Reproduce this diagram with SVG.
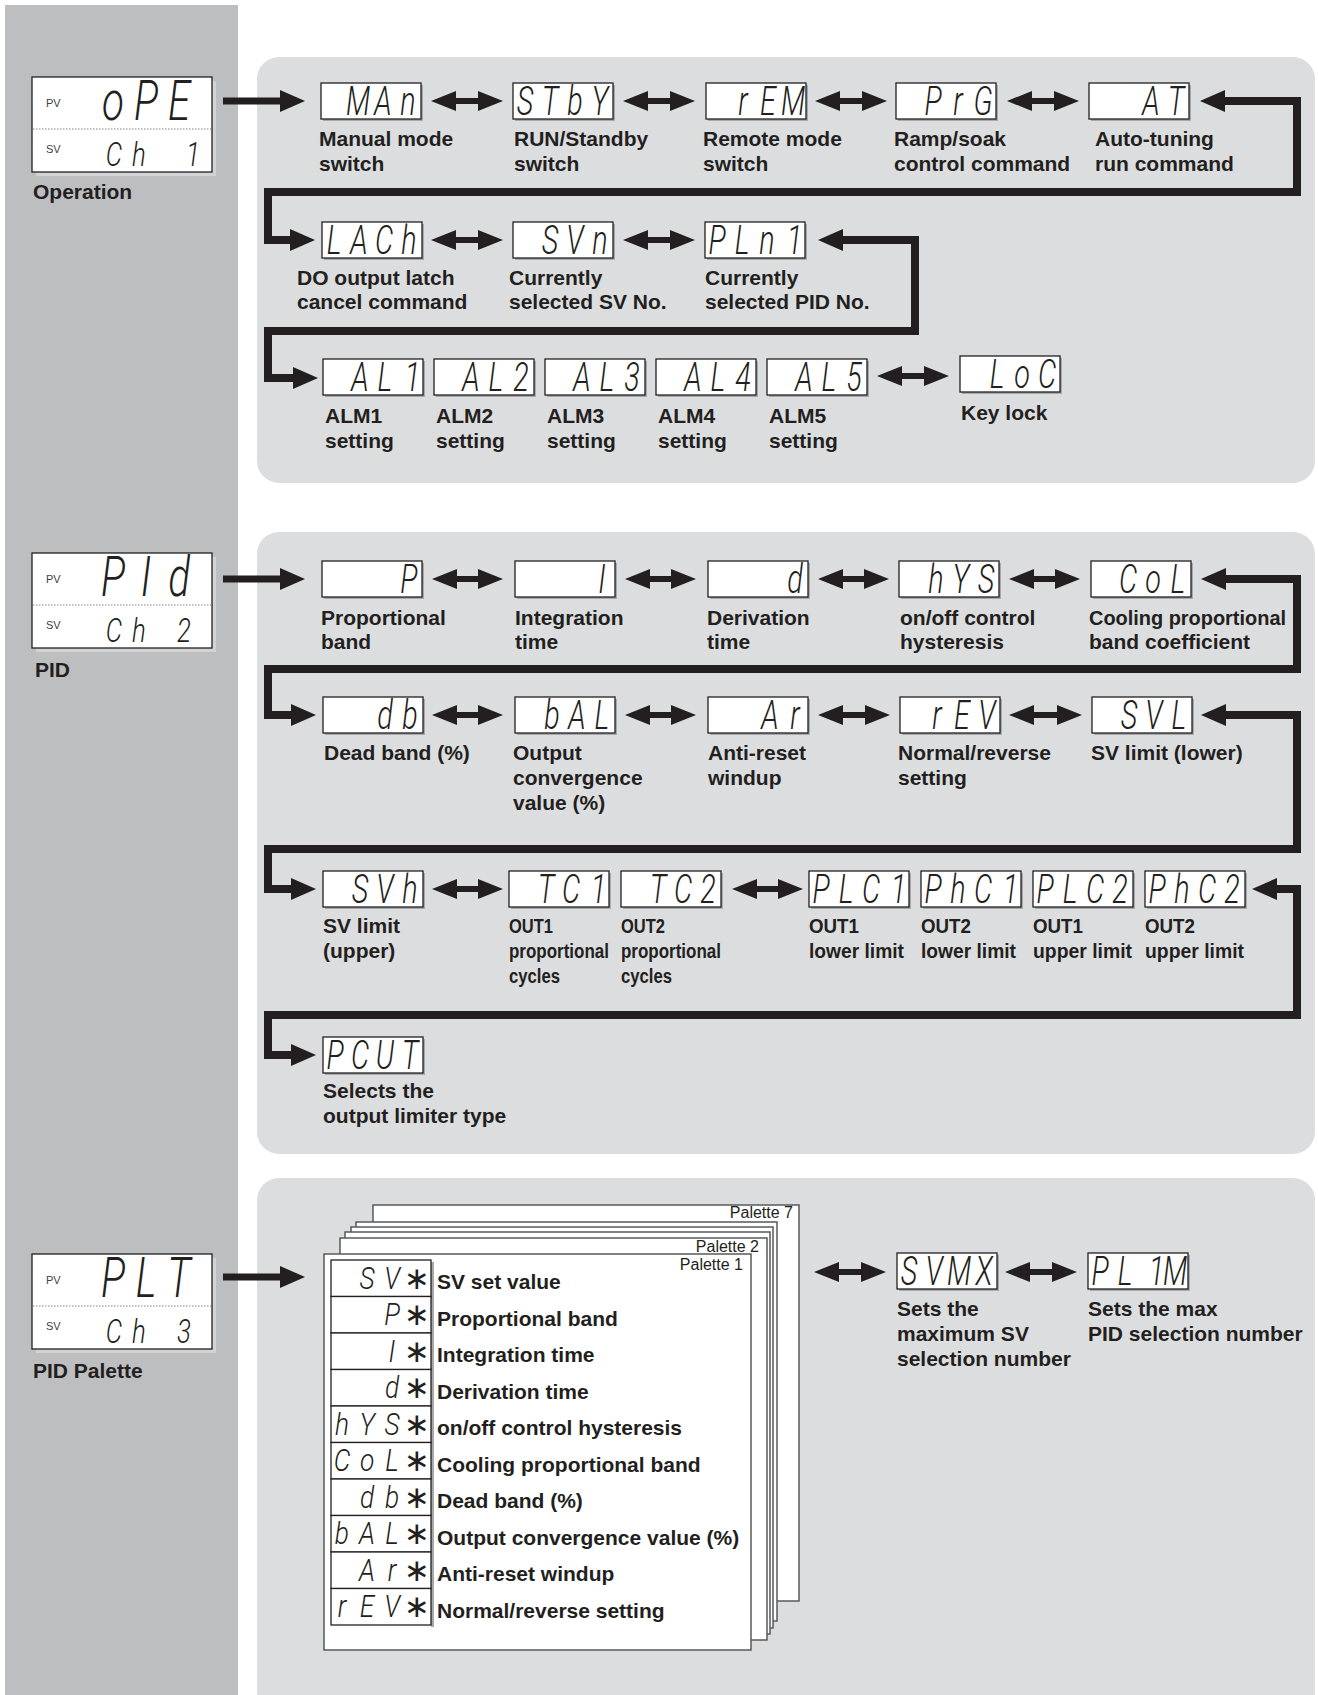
<svg xmlns="http://www.w3.org/2000/svg" width="1318" height="1695" viewBox="0 0 1318 1695">
<style>
.lbl{font-family:"Liberation Sans",Arial,Helvetica,sans-serif;font-weight:bold;font-size:21px;fill:#231f20}
.sec{font-family:"Liberation Sans",Arial,Helvetica,sans-serif;font-weight:bold;font-size:21px;fill:#231f20}
.pal{font-family:"Liberation Sans",Arial,Helvetica,sans-serif;font-size:16px;fill:#231f20;text-anchor:end}
.pvsv{font-family:"Liberation Sans",Arial,Helvetica,sans-serif;font-size:11px;fill:#414042}
.seg{font-family:Roboto,"DejaVu Sans",sans-serif;font-weight:300;font-style:italic;font-size:40px;fill:#231f20;text-anchor:middle}
.big{font-size:56px}
.sv{font-size:34px}
.lst{font-size:31px}
.ast{font-family:"DejaVu Sans",sans-serif;font-size:31px;fill:#231f20;text-anchor:middle}
.box{fill:#fff;stroke:#231f20;stroke-width:1.3}
.sh{fill:#a7a9ac}
.bsh{fill:#d1d3d4}
.dot{stroke:#808285;stroke-width:1;stroke-dasharray:1.5 1.5}
.page{fill:#fff;stroke:#58595b;stroke-width:1.5}
.conn{fill:none;stroke:#231f20;stroke-width:8;marker-start:url(#ah);marker-end:url(#ah)}
.one{fill:none;stroke:#231f20;stroke-width:7;marker-end:url(#ah)}
.dbl{stroke:#231f20;stroke-width:6;marker-start:url(#dh);marker-end:url(#dh)}
</style>
<defs>
<marker id="ah" markerUnits="userSpaceOnUse" markerWidth="26" markerHeight="22" refX="4" refY="11" orient="auto-start-reverse"><path d="M0,0 L25,11 L0,22 Z" fill="#231f20"/></marker>
<marker id="dh" markerUnits="userSpaceOnUse" markerWidth="26" markerHeight="20" refX="4" refY="10" orient="auto-start-reverse"><path d="M0,0 L25,10 L0,20 Z" fill="#231f20"/></marker>
</defs>

<g id="background">
<rect width="1318" height="1695" fill="#fff"/>
<rect x="5" y="5" width="233" height="1690" fill="#bcbec0"/>
<rect x="257" y="57" width="1058" height="426" rx="22" fill="#dcdddf"/>
<rect x="257" y="532" width="1058" height="622" rx="22" fill="#dcdddf"/>
<rect x="257" y="1178" width="1058" height="540" rx="22" fill="#dcdddf"/>
</g>

<!-- Main displays -->
<g id="d-operation">
<rect class="bsh" x="36" y="81" width="180" height="95"/>
<rect class="box" x="32" y="77" width="180" height="95"/>
<line class="dot" x1="33" y1="129" x2="211" y2="129"/>
<text class="pvsv" x="46" y="107">PV</text>
<text class="pvsv" x="46" y="153">SV</text>
<text class="seg big" transform="translate(32,77) scale(0.72,1)" x="112.5 158.3 204.2" y="43.3">oPE</text>
<text class="seg sv" transform="translate(32,77) scale(0.76,1)" x="107.9 140.8 171 211.8" y="89.3">Ch 1</text>
<text class="sec" x="33" y="199">Operation</text>
</g>
<g id="d-pid">
<rect class="bsh" x="36" y="557" width="180" height="95"/>
<rect class="box" x="32" y="553" width="180" height="95"/>
<line class="dot" x1="33" y1="605" x2="211" y2="605"/>
<text class="pvsv" x="46" y="583">PV</text>
<text class="pvsv" x="46" y="629">SV</text>
<text class="seg big" transform="translate(32,553) scale(0.72,1)" x="112.5 158.3 204.2" y="43.3">PId</text>
<text class="seg sv" transform="translate(32,553) scale(0.76,1)" x="107.9 140.8 171 200" y="89.3">Ch 2</text>
<text class="sec" x="35" y="677">PID</text>
</g>
<g id="d-palette">
<rect class="bsh" x="36" y="1258" width="180" height="95"/>
<rect class="box" x="32" y="1254" width="180" height="95"/>
<line class="dot" x1="33" y1="1306" x2="211" y2="1306"/>
<text class="pvsv" x="46" y="1284">PV</text>
<text class="pvsv" x="46" y="1330">SV</text>
<text class="seg big" transform="translate(32,1254) scale(0.72,1)" x="112.5 158.3 204.2" y="43.3">PLT</text>
<text class="seg sv" transform="translate(32,1254) scale(0.76,1)" x="107.9 140.8 171 200" y="89.3">Ch 3</text>
<text class="sec" x="33" y="1378">PID Palette</text>
</g>

<!-- Operation row 1 -->
<g id="n-man" transform="translate(321,83)"><rect class="sh" x="2" y="2" width="100" height="36"/><rect class="box" width="100" height="36"/><text class="seg" transform="scale(0.72,1)" x="51.4 86.1 120.8" y="32">MAn</text><text class="lbl" x="-2" y="63">Manual mode</text><text class="lbl" x="-2" y="88">switch</text></g>
<g id="n-stby" transform="translate(513,83)"><rect class="sh" x="2" y="2" width="100" height="36"/><rect class="box" width="100" height="36"/><text class="seg" transform="scale(0.72,1)" x="16.7 51.4 86.1 120.8" y="32">STbY</text><text class="lbl" x="1" y="63">RUN/Standby</text><text class="lbl" x="1" y="88">switch</text></g>
<g id="n-rem" transform="translate(706,83)"><rect class="sh" x="2" y="2" width="100" height="36"/><rect class="box" width="100" height="36"/><text class="seg" transform="scale(0.72,1)" x="51.4 86.1 120.8" y="32">rEM</text><text class="lbl" x="-3" y="63">Remote mode</text><text class="lbl" x="-3" y="88">switch</text></g>
<g id="n-prg" transform="translate(896,83)"><rect class="sh" x="2" y="2" width="100" height="36"/><rect class="box" width="100" height="36"/><text class="seg" transform="scale(0.72,1)" x="51.4 86.1 120.8" y="32">PrG</text><text class="lbl" x="-2" y="63">Ramp/soak</text><text class="lbl" x="-2" y="88">control command</text></g>
<g id="n-at" transform="translate(1089,83)"><rect class="sh" x="2" y="2" width="100" height="36"/><rect class="box" width="100" height="36"/><text class="seg" transform="scale(0.72,1)" x="86.1 120.8" y="32">AT</text><text class="lbl" x="6" y="63">Auto-tuning</text><text class="lbl" x="6" y="88">run command</text></g>

<!-- Operation row 2 -->
<g id="n-lach" transform="translate(322,222)"><rect class="sh" x="2" y="2" width="100" height="36"/><rect class="box" width="100" height="36"/><text class="seg" transform="scale(0.72,1)" x="16.7 51.4 86.1 120.8" y="32">LACh</text><text class="lbl" x="-25" y="63">DO output latch</text><text class="lbl" x="-25" y="87">cancel command</text></g>
<g id="n-svn" transform="translate(513,222)"><rect class="sh" x="2" y="2" width="100" height="36"/><rect class="box" width="100" height="36"/><text class="seg" transform="scale(0.72,1)" x="51.4 86.1 120.8" y="32">SVn</text><text class="lbl" x="-4" y="63">Currently</text><text class="lbl" x="-4" y="87">selected SV No.</text></g>
<g id="n-pln1" transform="translate(705,222)"><rect class="sh" x="2" y="2" width="100" height="36"/><rect class="box" width="100" height="36"/><text class="seg" transform="scale(0.72,1)" x="16.7 51.4 86.1 124.4" y="32">PLn1</text><text class="lbl" x="0" y="63">Currently</text><text class="lbl" x="0" y="87">selected PID No.</text></g>

<!-- Operation row 3 -->
<g id="n-al1" transform="translate(323,359)"><rect class="sh" x="2" y="2" width="100" height="36"/><rect class="box" width="100" height="36"/><text class="seg" transform="scale(0.72,1)" x="51.4 86.1 124.4" y="32">AL1</text><text class="lbl" x="2" y="64">ALM1</text><text class="lbl" x="2" y="89">setting</text></g>
<g id="n-al2" transform="translate(434,359)"><rect class="sh" x="2" y="2" width="100" height="36"/><rect class="box" width="100" height="36"/><text class="seg" transform="scale(0.72,1)" x="51.4 86.1 120.8" y="32">AL2</text><text class="lbl" x="2" y="64">ALM2</text><text class="lbl" x="2" y="89">setting</text></g>
<g id="n-al3" transform="translate(545,359)"><rect class="sh" x="2" y="2" width="100" height="36"/><rect class="box" width="100" height="36"/><text class="seg" transform="scale(0.72,1)" x="51.4 86.1 120.8" y="32">AL3</text><text class="lbl" x="2" y="64">ALM3</text><text class="lbl" x="2" y="89">setting</text></g>
<g id="n-al4" transform="translate(656,359)"><rect class="sh" x="2" y="2" width="100" height="36"/><rect class="box" width="100" height="36"/><text class="seg" transform="scale(0.72,1)" x="51.4 86.1 120.8" y="32">AL4</text><text class="lbl" x="2" y="64">ALM4</text><text class="lbl" x="2" y="89">setting</text></g>
<g id="n-al5" transform="translate(767,359)"><rect class="sh" x="2" y="2" width="100" height="36"/><rect class="box" width="100" height="36"/><text class="seg" transform="scale(0.72,1)" x="51.4 86.1 120.8" y="32">AL5</text><text class="lbl" x="2" y="64">ALM5</text><text class="lbl" x="2" y="89">setting</text></g>
<g id="n-loc" transform="translate(960,356)"><rect class="sh" x="2" y="2" width="100" height="36"/><rect class="box" width="100" height="36"/><text class="seg" transform="scale(0.72,1)" x="51.4 86.1 120.8" y="32">LoC</text><text class="lbl" x="1" y="64">Key lock</text></g>

<!-- PID row 1 -->
<g id="n-p" transform="translate(322,561)"><rect class="sh" x="2" y="2" width="100" height="36"/><rect class="box" width="100" height="36"/><text class="seg" transform="scale(0.72,1)" x="120.8" y="32">P</text><text class="lbl" x="-1" y="64">Proportional</text><text class="lbl" x="-1" y="88">band</text></g>
<g id="n-i" transform="translate(515,561)"><rect class="sh" x="2" y="2" width="100" height="36"/><rect class="box" width="100" height="36"/><text class="seg" transform="scale(0.72,1)" x="120.8" y="32">I</text><text class="lbl" x="0" y="64">Integration</text><text class="lbl" x="0" y="88">time</text></g>
<g id="n-d" transform="translate(708,561)"><rect class="sh" x="2" y="2" width="100" height="36"/><rect class="box" width="100" height="36"/><text class="seg" transform="scale(0.72,1)" x="120.8" y="32">d</text><text class="lbl" x="-1" y="64">Derivation</text><text class="lbl" x="-1" y="88">time</text></g>
<g id="n-hys" transform="translate(899,561)"><rect class="sh" x="2" y="2" width="100" height="36"/><rect class="box" width="100" height="36"/><text class="seg" transform="scale(0.72,1)" x="51.4 86.1 120.8" y="32">hYS</text><text class="lbl" x="1" y="64">on/off control</text><text class="lbl" x="1" y="88">hysteresis</text></g>
<g id="n-col" transform="translate(1091,561)"><rect class="sh" x="2" y="2" width="100" height="36"/><rect class="box" width="100" height="36"/><text class="seg" transform="scale(0.72,1)" x="51.4 86.1 120.8" y="32">CoL</text><text class="lbl" x="-2" y="64" textLength="197" lengthAdjust="spacingAndGlyphs">Cooling proportional</text><text class="lbl" x="-2" y="88">band coefficient</text></g>

<!-- PID row 2 -->
<g id="n-db" transform="translate(323,697)"><rect class="sh" x="2" y="2" width="100" height="36"/><rect class="box" width="100" height="36"/><text class="seg" transform="scale(0.72,1)" x="86.1 120.8" y="32">db</text><text class="lbl" x="1" y="63">Dead band (%)</text></g>
<g id="n-bal" transform="translate(515,697)"><rect class="sh" x="2" y="2" width="100" height="36"/><rect class="box" width="100" height="36"/><text class="seg" transform="scale(0.72,1)" x="51.4 86.1 120.8" y="32">bAL</text><text class="lbl" x="-2" y="63">Output</text><text class="lbl" x="-2" y="88">convergence</text><text class="lbl" x="-2" y="113">value (%)</text></g>
<g id="n-ar" transform="translate(708,697)"><rect class="sh" x="2" y="2" width="100" height="36"/><rect class="box" width="100" height="36"/><text class="seg" transform="scale(0.72,1)" x="86.1 120.8" y="32">Ar</text><text class="lbl" x="0" y="63">Anti-reset</text><text class="lbl" x="0" y="88">windup</text></g>
<g id="n-rev" transform="translate(900,697)"><rect class="sh" x="2" y="2" width="100" height="36"/><rect class="box" width="100" height="36"/><text class="seg" transform="scale(0.72,1)" x="51.4 86.1 120.8" y="32">rEV</text><text class="lbl" x="-2" y="63">Normal/reverse</text><text class="lbl" x="-2" y="88">setting</text></g>
<g id="n-svl" transform="translate(1092,697)"><rect class="sh" x="2" y="2" width="100" height="36"/><rect class="box" width="100" height="36"/><text class="seg" transform="scale(0.72,1)" x="51.4 86.1 120.8" y="32">SVL</text><text class="lbl" x="-1" y="63">SV limit (lower)</text></g>

<!-- PID row 3 -->
<g id="n-svh" transform="translate(323,871)"><rect class="sh" x="2" y="2" width="100" height="36"/><rect class="box" width="100" height="36"/><text class="seg" transform="scale(0.72,1)" x="51.4 86.1 120.8" y="32">SVh</text><text class="lbl" x="0" y="62">SV limit</text><text class="lbl" x="0" y="87">(upper)</text></g>
<g id="n-tc1" transform="translate(509,871)"><rect class="sh" x="2" y="2" width="100" height="36"/><rect class="box" width="100" height="36"/><text class="seg" transform="scale(0.72,1)" x="51.4 86.1 124.4" y="32">TC1</text><text class="lbl" x="0" y="62" textLength="44" lengthAdjust="spacingAndGlyphs">OUT1</text><text class="lbl" x="0" y="87" textLength="100" lengthAdjust="spacingAndGlyphs">proportional</text><text class="lbl" x="0" y="112" textLength="51" lengthAdjust="spacingAndGlyphs">cycles</text></g>
<g id="n-tc2" transform="translate(621,871)"><rect class="sh" x="2" y="2" width="100" height="36"/><rect class="box" width="100" height="36"/><text class="seg" transform="scale(0.72,1)" x="51.4 86.1 120.8" y="32">TC2</text><text class="lbl" x="0" y="62" textLength="44" lengthAdjust="spacingAndGlyphs">OUT2</text><text class="lbl" x="0" y="87" textLength="100" lengthAdjust="spacingAndGlyphs">proportional</text><text class="lbl" x="0" y="112" textLength="51" lengthAdjust="spacingAndGlyphs">cycles</text></g>
<g id="n-plc1" transform="translate(809,871)"><rect class="sh" x="2" y="2" width="100" height="36"/><rect class="box" width="100" height="36"/><text class="seg" transform="scale(0.72,1)" x="16.7 51.4 86.1 124.4" y="32">PLC1</text><text class="lbl" x="0" y="62" textLength="50" lengthAdjust="spacingAndGlyphs">OUT1</text><text class="lbl" x="0" y="87" textLength="95" lengthAdjust="spacingAndGlyphs">lower limit</text></g>
<g id="n-phc1" transform="translate(921,871)"><rect class="sh" x="2" y="2" width="100" height="36"/><rect class="box" width="100" height="36"/><text class="seg" transform="scale(0.72,1)" x="16.7 51.4 86.1 124.4" y="32">PhC1</text><text class="lbl" x="0" y="62" textLength="50" lengthAdjust="spacingAndGlyphs">OUT2</text><text class="lbl" x="0" y="87" textLength="95" lengthAdjust="spacingAndGlyphs">lower limit</text></g>
<g id="n-plc2" transform="translate(1033,871)"><rect class="sh" x="2" y="2" width="100" height="36"/><rect class="box" width="100" height="36"/><text class="seg" transform="scale(0.72,1)" x="16.7 51.4 86.1 120.8" y="32">PLC2</text><text class="lbl" x="0" y="62" textLength="50" lengthAdjust="spacingAndGlyphs">OUT1</text><text class="lbl" x="0" y="87" textLength="99" lengthAdjust="spacingAndGlyphs">upper limit</text></g>
<g id="n-phc2" transform="translate(1145,871)"><rect class="sh" x="2" y="2" width="100" height="36"/><rect class="box" width="100" height="36"/><text class="seg" transform="scale(0.72,1)" x="16.7 51.4 86.1 120.8" y="32">PhC2</text><text class="lbl" x="0" y="62" textLength="50" lengthAdjust="spacingAndGlyphs">OUT2</text><text class="lbl" x="0" y="87" textLength="99" lengthAdjust="spacingAndGlyphs">upper limit</text></g>

<!-- PID row 4 -->
<g id="n-pcut" transform="translate(323,1037)"><rect class="sh" x="2" y="2" width="100" height="36"/><rect class="box" width="100" height="36"/><text class="seg" transform="scale(0.72,1)" x="16.7 51.4 86.1 120.8" y="32">PCUT</text><text class="lbl" x="0" y="61">Selects the</text><text class="lbl" x="0" y="86">output limiter type</text></g>

<!-- Palette stack -->
<g id="n-palettes">
<rect class="page" x="373" y="1205" width="426" height="396"/>
<text class="pal" x="793" y="1218">Palette 7</text>
<rect class="page" x="356" y="1222" width="421" height="399"/>
<rect class="page" x="351" y="1227" width="422" height="401"/>
<rect class="page" x="345" y="1232" width="425" height="402"/>
<rect class="page" x="340" y="1238" width="427" height="402"/>
<text class="pal" x="759" y="1252">Palette 2</text>
<rect class="page" x="324" y="1254" width="427" height="396"/>
<text class="pal" x="743" y="1270">Palette 1</text>
<rect class="sh" x="431" y="1262" width="3" height="365"/>
<g id="r-sv" transform="translate(331,1260)"><rect class="box" width="100" height="36.5"/><text class="seg lst" transform="scale(0.85,1)" x="42.4 71.8" y="28.7">SV</text><text class="ast" x="86" y="28.7">∗</text><text class="lbl" x="106" y="29">SV set value</text></g>
<g id="r-p" transform="translate(331,1296.5)"><rect class="box" width="100" height="36.5"/><text class="seg lst" transform="scale(0.85,1)" x="71.8" y="28.7">P</text><text class="ast" x="86" y="28.7">∗</text><text class="lbl" x="106" y="29">Proportional band</text></g>
<g id="r-i" transform="translate(331,1333)"><rect class="box" width="100" height="36.5"/><text class="seg lst" transform="scale(0.85,1)" x="71.8" y="28.7">I</text><text class="ast" x="86" y="28.7">∗</text><text class="lbl" x="106" y="29">Integration time</text></g>
<g id="r-d" transform="translate(331,1369.5)"><rect class="box" width="100" height="36.5"/><text class="seg lst" transform="scale(0.85,1)" x="71.8" y="28.7">d</text><text class="ast" x="86" y="28.7">∗</text><text class="lbl" x="106" y="29">Derivation time</text></g>
<g id="r-hys" transform="translate(331,1406)"><rect class="box" width="100" height="36.5"/><text class="seg lst" transform="scale(0.85,1)" x="12.9 42.4 71.8" y="28.7">hYS</text><text class="ast" x="86" y="28.7">∗</text><text class="lbl" x="106" y="29">on/off control hysteresis</text></g>
<g id="r-col" transform="translate(331,1442.5)"><rect class="box" width="100" height="36.5"/><text class="seg lst" transform="scale(0.85,1)" x="12.9 42.4 71.8" y="28.7">CoL</text><text class="ast" x="86" y="28.7">∗</text><text class="lbl" x="106" y="29">Cooling proportional band</text></g>
<g id="r-db" transform="translate(331,1479)"><rect class="box" width="100" height="36.5"/><text class="seg lst" transform="scale(0.85,1)" x="42.4 71.8" y="28.7">db</text><text class="ast" x="86" y="28.7">∗</text><text class="lbl" x="106" y="29">Dead band (%)</text></g>
<g id="r-bal" transform="translate(331,1515.5)"><rect class="box" width="100" height="36.5"/><text class="seg lst" transform="scale(0.85,1)" x="12.9 42.4 71.8" y="28.7">bAL</text><text class="ast" x="86" y="28.7">∗</text><text class="lbl" x="106" y="29">Output convergence value (%)</text></g>
<g id="r-ar" transform="translate(331,1552)"><rect class="box" width="100" height="36.5"/><text class="seg lst" transform="scale(0.85,1)" x="42.4 71.8" y="28.7">Ar</text><text class="ast" x="86" y="28.7">∗</text><text class="lbl" x="106" y="29">Anti-reset windup</text></g>
<g id="r-rev" transform="translate(331,1588.5)"><rect class="box" width="100" height="36.5"/><text class="seg lst" transform="scale(0.85,1)" x="12.9 42.4 71.8" y="28.7">rEV</text><text class="ast" x="86" y="28.7">∗</text><text class="lbl" x="106" y="29">Normal/reverse setting</text></g>
</g>

<g id="n-svmx" transform="translate(897,1253)"><rect class="sh" x="2" y="2" width="100" height="36"/><rect class="box" width="100" height="36"/><text class="seg" transform="scale(0.72,1)" x="16.7 51.4 86.1 120.8" y="32">SVMX</text><text class="lbl" x="0" y="63">Sets the</text><text class="lbl" x="0" y="88">maximum SV</text><text class="lbl" x="0" y="113">selection number</text></g>
<g id="n-pl1m" transform="translate(1088,1253)"><rect class="sh" x="2" y="2" width="100" height="36"/><rect class="box" width="100" height="36"/><text class="seg" transform="scale(0.72,1)" x="16.7 51.4 95.3 120.8" y="32">PL1M</text><text class="lbl" x="0" y="63">Sets the max</text><text class="lbl" x="0" y="88">PID selection number</text></g>

<g id="connectors">
<line class="one" x1="223" y1="101" x2="284" y2="101"/>
<line class="one" x1="223" y1="579" x2="284" y2="579"/>
<line class="one" x1="223" y1="1277" x2="284" y2="1277"/>
<polyline class="conn" points="1221,101 1297,101 1297,192 268,192 268,240 294,240"/>
<polyline class="conn" points="839,240 915,240 915,331 268,331 268,378 297,378"/>
<polyline class="conn" points="1222,579 1297,579 1297,669 268,669 268,715 295,715"/>
<polyline class="conn" points="1222,715 1297,715 1297,849 268,849 268,889 295,889"/>
<polyline class="conn" points="1273,889 1297,889 1297,1015 268,1015 268,1055 295,1055"/>
<line class="dbl" x1="452" y1="101" x2="482" y2="101"/>
<line class="dbl" x1="644" y1="101" x2="674" y2="101"/>
<line class="dbl" x1="836" y1="101" x2="866" y2="101"/>
<line class="dbl" x1="1028" y1="101" x2="1058" y2="101"/>
<line class="dbl" x1="452" y1="240" x2="482" y2="240"/>
<line class="dbl" x1="644" y1="240" x2="674" y2="240"/>
<line class="dbl" x1="898" y1="376" x2="928" y2="376"/>
<line class="dbl" x1="453" y1="579" x2="482" y2="579"/>
<line class="dbl" x1="646" y1="579" x2="675" y2="579"/>
<line class="dbl" x1="839" y1="579" x2="868" y2="579"/>
<line class="dbl" x1="1030" y1="579" x2="1059" y2="579"/>
<line class="dbl" x1="453" y1="715" x2="482" y2="715"/>
<line class="dbl" x1="646" y1="715" x2="675" y2="715"/>
<line class="dbl" x1="839" y1="715" x2="869" y2="715"/>
<line class="dbl" x1="1030" y1="715" x2="1061" y2="715"/>
<line class="dbl" x1="453" y1="889" x2="482" y2="889"/>
<line class="dbl" x1="753" y1="889" x2="782" y2="889"/>
<line class="dbl" x1="835" y1="1272" x2="865" y2="1272"/>
<line class="dbl" x1="1026" y1="1272" x2="1056" y2="1272"/>
</g>
</svg>
